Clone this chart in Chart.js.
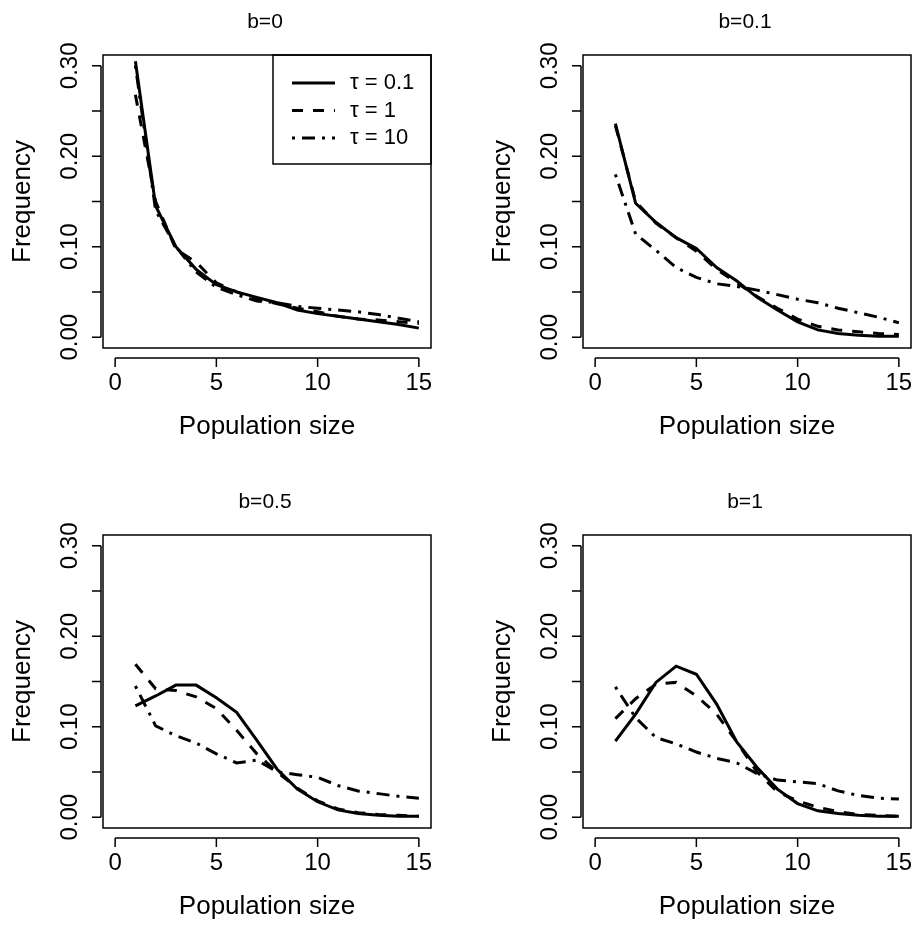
<!DOCTYPE html>
<html>
<head>
<meta charset="utf-8">
<script src="https://cdn.jsdelivr.net/npm/chart.js@4.4.1/dist/chart.umd.min.js"></script>
<style>
body { margin: 0; background: #fff; }
#lienzo { position: relative; width: 917px; height: 926px; }
#lienzo canvas { position: absolute; }
</style>
</head>
<body>
<div id="lienzo">
  <canvas id="g1" width="437" height="446" style="left:0;top:0"></canvas>
  <canvas id="g2" width="437" height="446" style="left:480px;top:0"></canvas>
  <canvas id="g3" width="437" height="446" style="left:0;top:480px"></canvas>
  <canvas id="g4" width="437" height="446" style="left:480px;top:480px"></canvas>
</div>
<script>
// Datos
const tamanos = [1, 2, 3, 4, 5, 6, 7, 8, 9, 10, 11, 12, 13, 14, 15];
const titulos = ['b=0', 'b=0.1', 'b=0.5', 'b=1'];
const etiquetasSerie = ['τ = 0.1', 'τ = 1', 'τ = 10'];
const ticksX = [0, 5, 10, 15];
const ticksY = [0, 0.05, 0.10, 0.15, 0.20, 0.25, 0.30];
const etiquetasY = ['0.00', '', '0.10', '', '0.20', '', '0.30'];

const b0_t01 = [0.305, 0.145, 0.100, 0.075, 0.058, 0.050, 0.044, 0.038, 0.030, 0.026, 0.023, 0.020, 0.017, 0.014, 0.010];
const b0_t1 = [0.268, 0.150, 0.097, 0.083, 0.060, 0.050, 0.042, 0.037, 0.032, 0.028, 0.023, 0.020, 0.019, 0.017, 0.015];
const b0_t10 = [0.300, 0.140, 0.100, 0.072, 0.055, 0.047, 0.040, 0.038, 0.034, 0.032, 0.030, 0.028, 0.025, 0.021, 0.017];

const b01_t01 = [0.236, 0.148, 0.127, 0.110, 0.098, 0.077, 0.062, 0.044, 0.030, 0.017, 0.008, 0.004, 0.002, 0.001, 0.001];
const b01_t1 = [0.234, 0.150, 0.126, 0.110, 0.095, 0.075, 0.060, 0.045, 0.032, 0.020, 0.012, 0.008, 0.006, 0.004, 0.003];
const b01_t10 = [0.180, 0.114, 0.096, 0.077, 0.066, 0.059, 0.056, 0.052, 0.047, 0.042, 0.038, 0.032, 0.027, 0.022, 0.016];

const b05_t01 = [0.123, 0.134, 0.146, 0.146, 0.132, 0.116, 0.085, 0.053, 0.031, 0.017, 0.008, 0.004, 0.002, 0.001, 0.001];
const b05_t1 = [0.169, 0.142, 0.140, 0.133, 0.120, 0.096, 0.070, 0.050, 0.032, 0.018, 0.009, 0.005, 0.003, 0.002, 0.001];
const b05_t10 = [0.145, 0.101, 0.090, 0.082, 0.070, 0.060, 0.063, 0.050, 0.047, 0.044, 0.035, 0.029, 0.026, 0.023, 0.021];

const b1_t01 = [0.084, 0.114, 0.149, 0.167, 0.158, 0.125, 0.083, 0.055, 0.031, 0.015, 0.007, 0.004, 0.002, 0.001, 0.001];
const b1_t1 = [0.109, 0.131, 0.147, 0.149, 0.134, 0.114, 0.083, 0.050, 0.028, 0.018, 0.011, 0.006, 0.003, 0.002, 0.001];
const b1_t10 = [0.144, 0.110, 0.088, 0.081, 0.072, 0.065, 0.060, 0.048, 0.041, 0.039, 0.037, 0.029, 0.024, 0.021, 0.020];

const fuente = '"Liberation Sans", Arial, Helvetica, sans-serif';
const trazos = [[], [11, 10], [3, 7, 13, 7]];

// Ejes al estilo de R (caja, ejes separados, etiquetas giradas)
const ejesR = {
    id: 'ejesR',
    afterDraw(chart, args, opts) {
        const ctx = chart.ctx;
        const a = chart.chartArea;
        const sx = chart.scales.x;
        const sy = chart.scales.y;
        ctx.save();
        ctx.strokeStyle = '#000';
        ctx.fillStyle = '#000';
        ctx.lineWidth = 1.5;
        ctx.setLineDash([]);
        ctx.strokeRect(a.left, a.top, a.right - a.left, a.bottom - a.top);

        // eje x
        const yEje = a.bottom + 10;
        ctx.beginPath();
        ctx.moveTo(sx.getPixelForValue(ticksX[0]), yEje);
        ctx.lineTo(sx.getPixelForValue(ticksX[ticksX.length - 1]), yEje);
        ticksX.forEach(v => {
            const px = sx.getPixelForValue(v);
            ctx.moveTo(px, yEje);
            ctx.lineTo(px, yEje + 9);
        });
        // eje y
        const xEje = a.left - 2;
        ctx.moveTo(xEje, sy.getPixelForValue(ticksY[0]));
        ctx.lineTo(xEje, sy.getPixelForValue(ticksY[ticksY.length - 1]));
        ticksY.forEach(v => {
            const py = sy.getPixelForValue(v);
            ctx.moveTo(xEje, py);
            ctx.lineTo(xEje - 9, py);
        });
        ctx.stroke();

        ctx.font = '24px ' + fuente;
        ctx.textAlign = 'center';
        ctx.textBaseline = 'alphabetic';
        ticksX.forEach(v => ctx.fillText(String(v), sx.getPixelForValue(v), a.bottom + 42));
        ticksY.forEach((v, i) => {
            if (!etiquetasY[i]) return;
            ctx.save();
            ctx.translate(a.left - 26, sy.getPixelForValue(v));
            ctx.rotate(-Math.PI / 2);
            ctx.fillText(etiquetasY[i], 0, 0);
            ctx.restore();
        });

        // títulos
        ctx.font = '26px ' + fuente;
        ctx.fillText('Population size', (a.left + a.right) / 2, a.bottom + 86);
        ctx.save();
        ctx.translate(a.left - 73, (a.top + a.bottom) / 2);
        ctx.rotate(-Math.PI / 2);
        ctx.fillText('Frequency', 0, 0);
        ctx.restore();
        ctx.font = '21px ' + fuente;
        ctx.fillText(opts.titulo, (a.left + a.right) / 2 - 2, a.top - 27);

        // leyenda
        if (opts.leyenda) {
            ctx.strokeRect(a.right - 158, a.top, 158, 109);
            chart.data.datasets.forEach((ds, i) => {
                const y = a.top + 28 + i * 27.5;
                ctx.beginPath();
                ctx.lineWidth = 3;
                ctx.setLineDash(ds.borderDash);
                ctx.moveTo(a.right - 139, y);
                ctx.lineTo(a.right - 96, y);
                ctx.stroke();
                ctx.setLineDash([]);
                ctx.font = '22px ' + fuente;
                ctx.textAlign = 'left';
                ctx.textBaseline = 'middle';
                ctx.fillText(ds.label, a.right - 81, y);
            });
        }
        ctx.restore();
    }
};

function crearPanel(id, titulo, series, conLeyenda) {
    const ctx = document.getElementById(id).getContext('2d');
    return new Chart(ctx, {
        type: 'line',
        data: {
            datasets: series.map((serie, i) => ({
                label: etiquetasSerie[i],
                data: tamanos.map((x, j) => ({ x: x, y: serie[j] })),
                borderColor: '#000',
                borderWidth: 3,
                borderDash: trazos[i],
                borderCapStyle: 'butt',
                pointRadius: 0,
                tension: 0,
                fill: false
            }))
        },
        options: {
            responsive: false,
            animation: false,
            devicePixelRatio: 1,
            layout: { padding: { left: 103, right: 6, top: 55, bottom: 98 } },
            scales: {
                x: { type: 'linear', min: -0.6, max: 15.6, display: false },
                y: { type: 'linear', min: -0.012, max: 0.312, display: false }
            },
            plugins: {
                legend: { display: false },
                tooltip: { enabled: false },
                ejesR: { titulo: titulo, leyenda: conLeyenda }
            }
        },
        plugins: [ejesR]
    });
}

crearPanel('g1', titulos[0], [b0_t01, b0_t1, b0_t10], true);
crearPanel('g2', titulos[1], [b01_t01, b01_t1, b01_t10], false);
crearPanel('g3', titulos[2], [b05_t01, b05_t1, b05_t10], false);
crearPanel('g4', titulos[3], [b1_t01, b1_t1, b1_t10], false);
</script>
</body>
</html>
